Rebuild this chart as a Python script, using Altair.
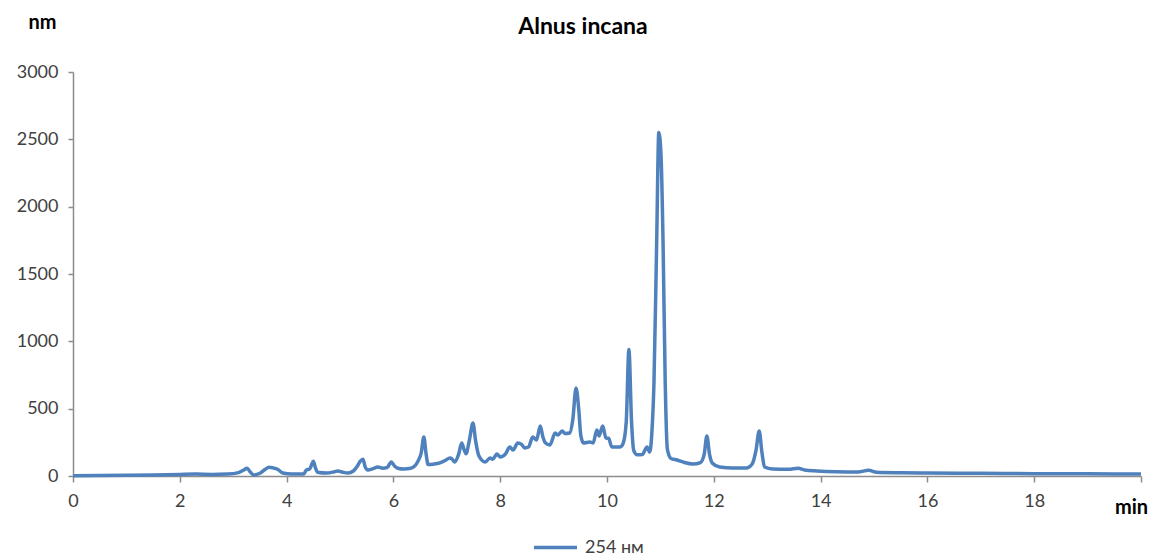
import altair as alt
import pandas as pd

# retention time (min) and detector response at 254 nm
times = [0.0, 0.5, 1.0, 1.5, 2.0, 2.3, 2.6, 2.9, 3.1, 3.2, 3.26, 3.32, 3.38, 3.5, 3.6, 3.67, 3.75, 3.83, 3.93,
         4.1, 4.32, 4.37, 4.43, 4.47, 4.5, 4.54, 4.58, 4.75, 4.9, 4.96, 5.05, 5.15, 5.25, 5.32, 5.38, 5.43,
         5.47, 5.52, 5.62, 5.71, 5.8, 5.88, 5.96, 6.02, 6.08, 6.2, 6.3, 6.38, 6.46, 6.52, 6.57, 6.61, 6.65,
         6.75, 6.87, 6.97, 7.06, 7.1, 7.15, 7.22, 7.28, 7.32, 7.36, 7.42, 7.49, 7.54, 7.6, 7.72, 7.81, 7.86,
         7.94, 8.0, 8.1, 8.18, 8.24, 8.33, 8.4, 8.46, 8.53, 8.61, 8.68, 8.75, 8.8, 8.85, 8.93, 9.03, 9.08,
         9.16, 9.22, 9.3, 9.36, 9.42, 9.47, 9.51, 9.56, 9.68, 9.74, 9.81, 9.85, 9.92, 9.98, 10.03, 10.09,
         10.24, 10.3, 10.36, 10.41, 10.46, 10.5, 10.56, 10.66, 10.75, 10.8, 10.84, 10.88, 10.93, 10.97,
         11.01, 11.05, 11.09, 11.13, 11.2, 11.31, 11.45, 11.61, 11.75, 11.82, 11.87, 11.92, 11.97, 12.11,
         12.36, 12.62, 12.72, 12.79, 12.85, 12.9, 12.95, 13.1, 13.4, 13.58, 13.7, 13.93, 14.3, 14.7, 14.9,
         15.05, 15.5, 16.0, 17.0, 18.0, 19.0, 20.0]
values = [2, 3, 5, 8, 12, 14, 12, 14, 25, 45, 58, 30, 8, 20, 50, 65, 60, 50, 22,
          15, 15, 45, 52, 85, 110, 60, 28, 22, 32, 37, 28, 22, 37, 70, 110, 125,
          70, 45, 55, 67, 58, 62, 104, 75, 58, 52, 55, 67, 110, 170, 290, 170, 85,
          88, 97, 115, 134, 125, 104, 160, 245, 200, 165, 260, 393, 260, 150, 104, 134, 125,
          163, 141, 165, 215, 193, 245, 235, 208, 215, 290, 267, 371, 290, 245, 230, 319, 304,
          334, 315, 319, 420, 653, 500, 300, 245, 253, 245, 342, 297, 371, 282, 280, 215,
          215, 240, 400, 940, 400, 190, 158, 160, 215, 178, 320, 700, 1730, 2550,
          2400, 1730, 700, 200, 130, 119, 100, 89, 100, 160, 297, 160, 97, 67,
          59, 60, 90, 190, 335, 180, 67, 52, 50, 58, 45, 38, 32, 30, 42,
          28, 24, 22, 20, 17, 16, 15]
series_name = "254 нм"
x_ticks = [0, 2, 4, 6, 8, 10, 12, 14, 16, 18, 20]
y_ticks = [0, 500, 1000, 1500, 2000, 2500, 3000]

df = pd.DataFrame({"t": times, "v": values, "series": series_name})

FONT = "Lato"
GREY = "#8c8c8c"
TXT = "#404040"

chart = alt.Chart(df).mark_line(strokeWidth=3.5, interpolate="monotone").encode(
    x=alt.X("t:Q", scale=alt.Scale(domain=[0, 20], nice=False),
            axis=alt.Axis(values=x_ticks, title="min", titleAngle=0, titleX=1058, titleY=31,
                          titleAlign="center", titleBaseline="middle", titleFontSize=20,
                          titleFontWeight="bold", titleColor="#000000",
                          labelExpr="datum.value == 20 ? '' : datum.label",
                          labelFlush=False, tickSize=6, labelPadding=10, grid=False)),
    y=alt.Y("v:Q", scale=alt.Scale(domain=[0, 3000], nice=False),
            axis=alt.Axis(values=y_ticks, title="nm", titleAngle=0, titleX=-31, titleY=-50,
                          titleAlign="center", titleBaseline="middle", titleFontSize=20,
                          titleFontWeight="bold", titleColor="#000000", format="d",
                          tickSize=5, labelPadding=10, grid=False)),
    color=alt.Color("series:N", scale=alt.Scale(range=["#4F81BD"]),
                    legend=alt.Legend(title=None, orient="none", legendX=459, legendY=452,
                                      symbolType="stroke", symbolSize=1849, symbolStrokeWidth=3.5,
                                      labelFontSize=18, labelFont=FONT, labelColor=TXT,
                                      labelOffset=6)),
).properties(
    width=1068, height=404,
    title=alt.TitleParams("Alnus incana", fontSize=23, font=FONT, fontWeight="bold",
                          color="#000000", dx=-24, dy=31, anchor="middle"),
    autosize=alt.AutoSizeParams(type="none"),
    padding={"left": 73, "top": 72, "right": 10, "bottom": 81},
).configure_view(stroke=None).configure_axis(
    domainColor=GREY, tickColor=GREY, labelColor=TXT, labelFont=FONT, labelFontSize=18,
    titleFont=FONT, domainWidth=1.5, tickWidth=1.5,
)

chart.save("out.html", embed_options={"renderer": "svg", "actions": False})
